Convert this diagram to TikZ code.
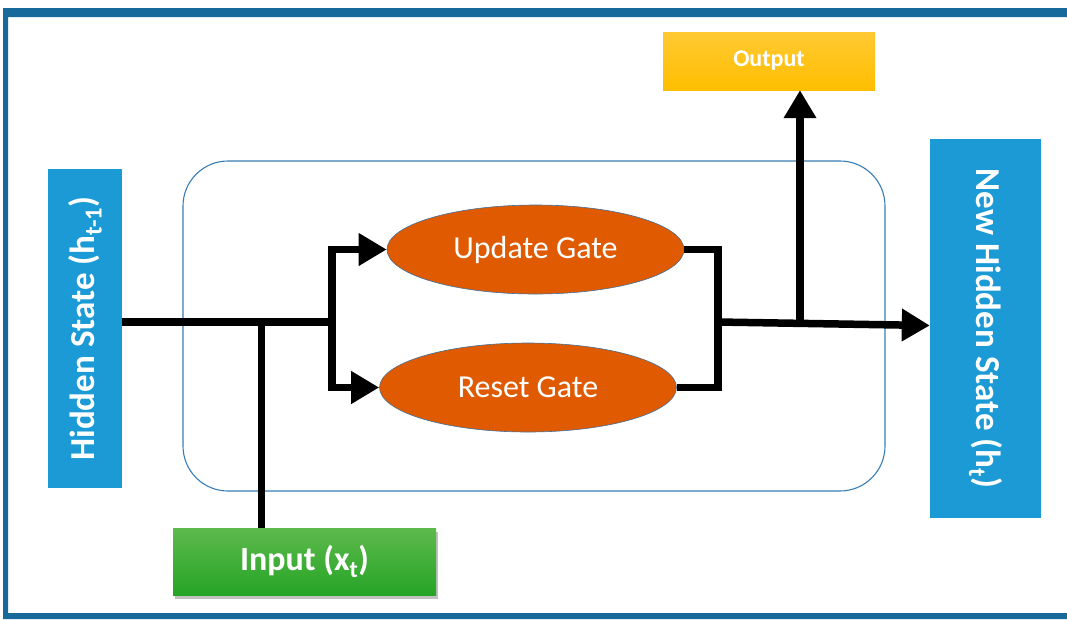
\documentclass[tikz,border=0pt]{standalone}
\usepackage{fontspec}
\setmainfont{Carlito}
\usetikzlibrary{arrows.meta,shapes.geometric,shadows,calc}
\definecolor{frameblue}{HTML}{16699A}
\definecolor{boxblue}{HTML}{1B9AD6}
\definecolor{gateorange}{HTML}{DF5A00}
\definecolor{gateline}{HTML}{41719C}
\definecolor{cellline}{HTML}{3A7DB4}
\definecolor{greentop}{HTML}{5DB94C}
\definecolor{greenbot}{HTML}{26A426}
\definecolor{outtop}{HTML}{FFC933}
\definecolor{outbot}{HTML}{FFBE00}
\tikzset{
  sidebox/.style={fill=boxblue, text=white, inner sep=0pt},
  gate/.style={ellipse, fill=gateorange, draw=gateline, line width=0.6pt, inner sep=0pt,
    minimum width=297pt, minimum height=89pt, text=white, font=\fontsize{32}{38}\selectfont},
  wire/.style={line width=7.5pt, black, line cap=butt, line join=miter},
  tip/.style={-{Triangle[length=28pt,width=31pt]}},
}
\begin{document}
\begin{tikzpicture}[x=1pt,y=-1pt]
\clip (0,0) rectangle (1067,619);
\fill[white] (0,0) rectangle (1067,619);
% frame
\fill[frameblue, even odd rule] (3,8) rectangle (1090,619) (8,17) rectangle (1090,613);
% cell
\node[draw=cellline, line width=1.1pt, rounded corners=45pt, minimum width=702pt, minimum height=330pt, inner sep=0pt] (cell) at (534,326) {};
% boxes
\node[sidebox, minimum width=74pt, minimum height=319pt] (hs) at (85,328.5)
  {\rotatebox{90}{\fontsize{35}{40}\selectfont\bfseries Hidden State (h\textsubscript{t-1})}};
\node[sidebox, minimum width=111pt, minimum height=379pt] (nhs) at (985.5,328.5)
  {\rotatebox{-90}{\fontsize{35}{40}\selectfont\bfseries New Hidden State (h\textsubscript{t})}};
\node[top color=greentop, bottom color=greenbot, text=white, inner sep=0pt,
  minimum width=263pt, minimum height=67pt,
  drop shadow={shadow xshift=2pt, shadow yshift=-4pt, opacity=0.35, fill=black!70}] (in) at (304.5,561.5)
  {\fontsize{34}{38}\selectfont\bfseries Input (x\textsubscript{t})};
\node[top color=outtop, bottom color=outbot, text=white, inner sep=0pt,
  minimum width=212pt, minimum height=58pt] (out) at (769,61)
  {\fontsize{24}{28}\selectfont\bfseries Output};
% gates
\node[gate] (ug) at (535.5,249.5) {Update Gate};
\node[gate] (rg) at (528,387.5) {Reset Gate};
% junctions
\coordinate (j1) at (332,322);
\coordinate (jin) at (261.5,322);
\coordinate (j2) at (718,322);
\coordinate (jo) at (800,321);
% connectors
\draw[wire] (hs.east |- j1) -- (j1);
\draw[wire] (jin |- in.north) -- (jin);
\draw[wire, tip] ($(j1)+(0,3.75)$) |- (ug.west);
\draw[wire, tip] ($(j1)+(0,-3.75)$) |- (rg.west);
\draw[wire] (ug.east) -| (j2);
\draw[wire] (rg.east) -| (j2);
\draw[wire, tip] (j2) -- ($(nhs.west)+(0,-3)$);
\draw[wire, tip] (jo) -- (jo |- out.south);
\end{tikzpicture}
\end{document}
